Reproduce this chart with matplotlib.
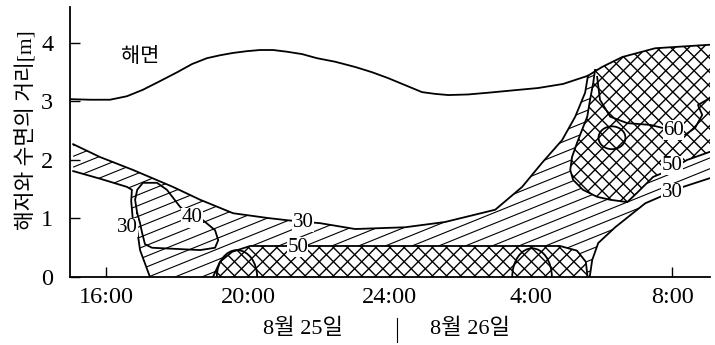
import matplotlib
matplotlib.use('Agg')
import matplotlib.pyplot as plt
import numpy as np
from matplotlib.patches import Polygon, Arc, Ellipse
from matplotlib.collections import LineCollection
from matplotlib.lines import Line2D

plt.rcParams['font.family'] = ['Liberation Serif', 'Noto Sans CJK KR']

# time in hours from 0:00 on 8/25 (28 = 4:00, 32 = 8:00 on 8/26), height in m
SURF_H = [14.97, 15.54, 16.10, 16.58, 17.03, 17.52, 18.00, 18.42, 18.84, 19.21,
          19.58, 19.97, 20.34, 20.71, 21.11, 21.53, 21.95, 22.46, 23.03, 23.51,
          23.96, 24.44, 24.92, 25.29, 25.66, 26.22, 26.79, 27.49, 28.20, 28.91,
          29.61, 30.01, 30.58, 31.51, 33.06]
SURF_M = [3.04, 3.03, 3.03, 3.09, 3.20, 3.35, 3.50, 3.64, 3.74, 3.79,
          3.83, 3.86, 3.88, 3.88, 3.85, 3.81, 3.74, 3.68, 3.59, 3.50,
          3.40, 3.28, 3.16, 3.13, 3.11, 3.12, 3.15, 3.19, 3.23, 3.30,
          3.44, 3.59, 3.76, 3.91, 3.97]

# 30 contour
C30_TOP_H = [15.06, 15.82, 16.75, 17.88, 18.65, 19.58, 20.54, 21.11, 22.04, 23.03,
             24.44, 25.57, 26.99, 27.75, 28.31, 28.88, 29.25, 29.53, 29.61]
C30_TOP_M = [2.27, 2.05, 1.83, 1.54, 1.32, 1.09, 1.01, 0.97, 0.92, 0.82,
             0.85, 0.94, 1.15, 1.54, 1.95, 2.34, 2.74, 3.15, 3.44]
C30_LR_H = [33.06, 32.30, 31.65, 31.23, 30.38, 29.90, 29.73, 29.66]
C30_LR_M = [1.69, 1.54, 1.37, 1.26, 0.85, 0.58, 0.29, 0.0]
C30_LL_H = [17.23, 16.95, 16.87, 16.74, 16.70, 16.72, 16.58, 15.82, 15.06]
C30_LL_M = [0.0, 0.46, 0.80, 1.02, 1.30, 1.49, 1.54, 1.68, 1.81]

# 40 contour
C40_H = [16.87, 16.81, 16.87, 17.03, 17.43, 17.71, 18.08, 18.42, 18.73, 19.07,
         19.16, 19.07, 18.65, 17.29, 17.09, 17.01, 16.95, 16.87]
C40_M = [1.09, 1.32, 1.49, 1.61, 1.61, 1.49, 1.20, 1.02, 0.97, 0.80,
         0.63, 0.50, 0.46, 0.50, 0.56, 0.75, 0.92, 1.09]

# 50 contours
BAND_H = [19.01, 19.21, 19.55, 20.06, 28.82, 29.30, 29.55, 29.60]
BAND_M = [0.0, 0.26, 0.43, 0.53, 0.53, 0.45, 0.26, 0.0]
U50_H = [33.06, 32.41, 31.93, 31.45, 31.00, 30.72, 30.24, 29.87, 29.47, 29.19,
         29.11, 29.16, 29.30, 29.44, 29.59, 29.67, 29.76, 29.81]
U50_M = [2.14, 2.00, 1.83, 1.71, 1.44, 1.28, 1.32, 1.37, 1.49, 1.66,
         1.83, 2.05, 2.29, 2.51, 2.74, 3.03, 3.32, 3.54]

# 60 contours
L60A_H = [29.87, 29.95, 30.24, 30.72, 31.37, 31.71]
L60A_M = [3.42, 3.03, 2.74, 2.63, 2.60, 2.55]
L60B_H = [32.36, 32.64, 32.84, 32.72, 33.06]
L60B_M = [2.43, 2.55, 2.77, 2.94, 3.06]
ARC_C = [19.69, 28.03]
ARC_W = [1.14, 1.12]
ARC_TOP = [0.46, 0.49]
ELL_C = (30.29, 2.38)
ELL_W, ELL_HT = 0.76, 0.39

LBL_TXT = ['30', '40', '30', '50', '60', '50', '30']
LBL_H = [16.58, 18.42, 21.56, 21.41, 32.02, 31.99, 31.99]
LBL_M = [0.85, 1.01, 0.94, 0.51, 2.51, 1.91, 1.44]

XTICKS = [16, 20, 24, 28, 32]
XLABELS = ['16:00', '20:00', '24:00', '4:00', '8:00']

fig = plt.figure(figsize=(7.15, 3.45), dpi=100)
ax = fig.add_axes([70/715, 68/345, 640/715, 270/345])
ax.set_xlim(14.97, 33.06); ax.set_ylim(0, 4.615)

def poly(h, m, **kw):
    return Polygon(np.column_stack([h, m]), closed=True, transform=ax.transData, **kw)

def hatch(clip, angles, step, lw=0.8, z=1):
    W, H = ax.bbox.width, ax.bbox.height
    D = np.hypot(W, H)
    segs = []
    for a in angles:
        t = np.radians(a)
        d = np.array([np.cos(t), np.sin(t)]); n = np.array([-np.sin(t), np.cos(t)])
        for o in np.arange(-D, D, step):
            c = np.array([W/2, H/2]) + o*n
            p0, p1 = c - D*d, c + D*d
            segs.append([(p0[0]/W, p0[1]/H), (p1[0]/W, p1[1]/H)])
    lc = LineCollection(segs, colors='black', linewidths=lw, transform=ax.transAxes, zorder=z)
    ax.add_collection(lc, autolim=False)
    lc.set_clip_path(clip)

sh, sm = np.array(SURF_H), np.array(SURF_M)

# 30 region: single hatch
r30_h = C30_TOP_H + list(sh[sh > 29.61]) + C30_LR_H + C30_LL_H
r30_m = C30_TOP_M + list(sm[sh > 29.61]) + C30_LR_M + C30_LL_M
hatch(poly(r30_h, r30_m), [22], 10, lw=0.8, z=1)

# 50 regions: cross hatch over white
ax.add_patch(poly(BAND_H, BAND_M, facecolor='white', edgecolor='none', zorder=2))
hatch(poly(BAND_H, BAND_M), [45, -45], 10, lw=1.0, z=3)
u_h = U50_H + list(sh[sh > 29.81])
u_m = U50_M + list(sm[sh > 29.81])
ax.add_patch(poly(u_h, u_m, facecolor='white', edgecolor='none', zorder=2))
hatch(poly(u_h, u_m), [45, -45], 10, lw=1.0, z=3)

# outlines
kw = dict(color='black', lw=1.3, zorder=4)
ax.plot(SURF_H, SURF_M, **kw)
ax.plot(C30_TOP_H, C30_TOP_M, **kw)
ax.plot(C30_LR_H, C30_LR_M, **kw)
ax.plot(C30_LL_H, C30_LL_M, **kw)
ax.plot(C40_H, C40_M, **kw)
ax.plot(BAND_H, BAND_M, **kw)
ax.plot(U50_H, U50_M, **kw)
ax.plot(L60A_H, L60A_M, **kw)
ax.plot(L60B_H, L60B_M, **kw)
for c, w, t in zip(ARC_C, ARC_W, ARC_TOP):
    ax.add_patch(Arc((c, 0), w, 2*t, theta1=0, theta2=180, **kw))
ax.add_patch(Ellipse(ELL_C, ELL_W, ELL_HT, facecolor='none', edgecolor='black', lw=1.3, zorder=4))

for t, h, m in zip(LBL_TXT, LBL_H, LBL_M):
    ax.text(h, m, t, fontsize=15, ha='center', va='center', zorder=5,
            bbox=dict(facecolor='white', edgecolor='none', pad=0.2))
ax.text(16.95, 3.76, '해면', fontsize=15, ha='center', va='center')

ax.set_xticks(XTICKS, XLABELS)
ax.set_yticks([0, 1, 2, 3, 4])
ax.tick_params(direction='in', length=7, width=1, labelsize=17.5)
ax.tick_params(axis='x', pad=7)
ax.tick_params(axis='y', pad=12)
for s in ['top', 'right']:
    ax.spines[s].set_visible(False)
for s in ['left', 'bottom']:
    ax.spines[s].set_linewidth(1.3)
ax.set_ylabel('해저와 수면의 거리[m]', fontsize=15.5)
ax.yaxis.set_label_coords(-0.052, 0.545)

tr = ax.get_xaxis_transform()
ax.text(21.56, -0.193, '8월 25일', transform=tr, fontsize=16, ha='center', va='center')
ax.text(26.28, -0.193, '8월 26일', transform=tr, fontsize=16, ha='center', va='center')
fig.add_artist(Line2D([397/715, 397/715], [3/345, 27/345], color='black', lw=0.8))

fig.savefig('out.png', dpi=100)
